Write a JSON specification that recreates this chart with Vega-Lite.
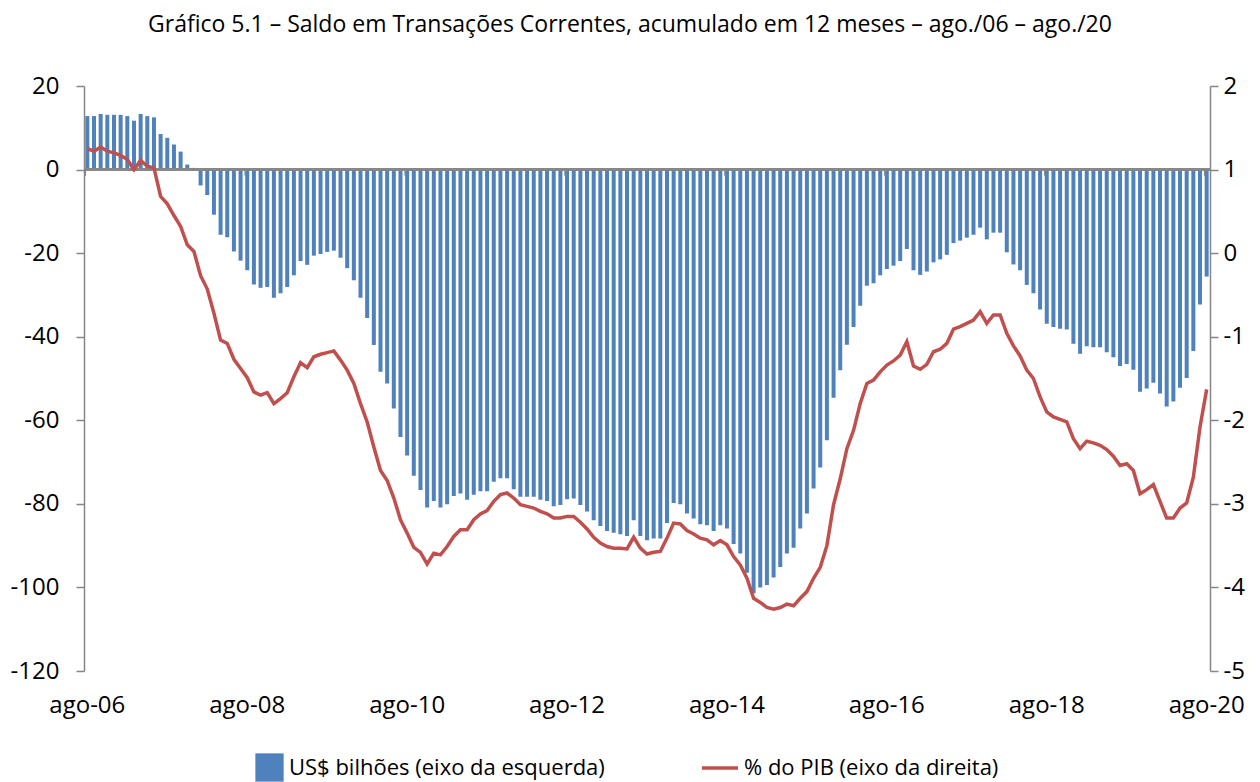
{
  "$schema": "https://vega.github.io/schema/vega-lite/v6.json",
  "width": 1126,
  "height": 585,
  "autosize": {"type": "none"},
  "padding": {"left": 84, "top": 86, "right": 50, "bottom": 111},
  "background": "white",
  "config": {
    "view": {"stroke": null},
    "font": "Open Sans",
    "axis": {"grid": false, "labelFont": "Open Sans", "labelColor": "#000000", "domainColor": "#868686", "tickColor": "#868686", "titleFont": "Open Sans"},
    "legend": {"labelFont": "Open Sans"}
  },
  "title": {
    "text": "Gráfico 5.1 – Saldo em Transações Correntes, acumulado em 12 meses – ago./06 – ago./20",
    "fontSize": 23,
    "fontWeight": "normal",
    "font": "Open Sans",
    "color": "#000000",
    "offset": 37,
    "dx": -17,
    "anchor": "middle"
  },
  "data": {
    "values": [
      {"mes": "ago-06", "usd": 12.8, "pib": 1.25},
      {"mes": "set-06", "usd": 12.8, "pib": 1.22},
      {"mes": "out-06", "usd": 13.3, "pib": 1.27},
      {"mes": "nov-06", "usd": 13.1, "pib": 1.22},
      {"mes": "dez-06", "usd": 13.1, "pib": 1.20},
      {"mes": "jan-07", "usd": 13.1, "pib": 1.17},
      {"mes": "fev-07", "usd": 12.8, "pib": 1.12},
      {"mes": "mar-07", "usd": 11.7, "pib": 1.00},
      {"mes": "abr-07", "usd": 13.3, "pib": 1.11},
      {"mes": "mai-07", "usd": 12.8, "pib": 1.04},
      {"mes": "jun-07", "usd": 12.5, "pib": 1.02},
      {"mes": "jul-07", "usd": 8.5, "pib": 0.68},
      {"mes": "ago-07", "usd": 7.6, "pib": 0.59},
      {"mes": "set-07", "usd": 6.0, "pib": 0.45},
      {"mes": "out-07", "usd": 4.3, "pib": 0.32},
      {"mes": "nov-07", "usd": 1.2, "pib": 0.10},
      {"mes": "dez-07", "usd": 0.4, "pib": 0.02},
      {"mes": "jan-08", "usd": -3.8, "pib": -0.27},
      {"mes": "fev-08", "usd": -6.1, "pib": -0.43},
      {"mes": "mar-08", "usd": -10.8, "pib": -0.72},
      {"mes": "abr-08", "usd": -15.6, "pib": -1.04},
      {"mes": "mai-08", "usd": -16.2, "pib": -1.08},
      {"mes": "jun-08", "usd": -19.6, "pib": -1.27},
      {"mes": "jul-08", "usd": -21.8, "pib": -1.38},
      {"mes": "ago-08", "usd": -24.1, "pib": -1.49},
      {"mes": "set-08", "usd": -27.5, "pib": -1.66},
      {"mes": "out-08", "usd": -28.3, "pib": -1.70},
      {"mes": "nov-08", "usd": -28.1, "pib": -1.67},
      {"mes": "dez-08", "usd": -30.7, "pib": -1.80},
      {"mes": "jan-09", "usd": -29.6, "pib": -1.74},
      {"mes": "fev-09", "usd": -28.1, "pib": -1.67},
      {"mes": "mar-09", "usd": -25.3, "pib": -1.48},
      {"mes": "abr-09", "usd": -21.9, "pib": -1.31},
      {"mes": "mai-09", "usd": -22.8, "pib": -1.37},
      {"mes": "jun-09", "usd": -20.6, "pib": -1.24},
      {"mes": "jul-09", "usd": -20.2, "pib": -1.21},
      {"mes": "ago-09", "usd": -19.7, "pib": -1.19},
      {"mes": "set-09", "usd": -19.4, "pib": -1.17},
      {"mes": "out-09", "usd": -21.1, "pib": -1.28},
      {"mes": "nov-09", "usd": -23.6, "pib": -1.40},
      {"mes": "dez-09", "usd": -26.5, "pib": -1.56},
      {"mes": "jan-10", "usd": -30.7, "pib": -1.80},
      {"mes": "fev-10", "usd": -35.5, "pib": -2.02},
      {"mes": "mar-10", "usd": -42.0, "pib": -2.32},
      {"mes": "abr-10", "usd": -48.4, "pib": -2.60},
      {"mes": "mai-10", "usd": -51.2, "pib": -2.72},
      {"mes": "jun-10", "usd": -57.2, "pib": -2.93},
      {"mes": "jul-10", "usd": -64.0, "pib": -3.19},
      {"mes": "ago-10", "usd": -68.4, "pib": -3.35},
      {"mes": "set-10", "usd": -73.3, "pib": -3.52},
      {"mes": "out-10", "usd": -76.7, "pib": -3.58},
      {"mes": "nov-10", "usd": -80.9, "pib": -3.72},
      {"mes": "dez-10", "usd": -79.3, "pib": -3.59},
      {"mes": "jan-11", "usd": -80.9, "pib": -3.61},
      {"mes": "fev-11", "usd": -80.1, "pib": -3.51},
      {"mes": "mar-11", "usd": -78.1, "pib": -3.39},
      {"mes": "abr-11", "usd": -77.5, "pib": -3.31},
      {"mes": "mai-11", "usd": -79.0, "pib": -3.31},
      {"mes": "jun-11", "usd": -77.8, "pib": -3.19},
      {"mes": "jul-11", "usd": -77.0, "pib": -3.12},
      {"mes": "ago-11", "usd": -77.0, "pib": -3.08},
      {"mes": "set-11", "usd": -74.7, "pib": -2.97},
      {"mes": "out-11", "usd": -73.9, "pib": -2.89},
      {"mes": "nov-11", "usd": -73.9, "pib": -2.87},
      {"mes": "dez-11", "usd": -76.5, "pib": -2.93},
      {"mes": "jan-12", "usd": -78.3, "pib": -3.01},
      {"mes": "fev-12", "usd": -78.3, "pib": -3.03},
      {"mes": "mar-12", "usd": -78.3, "pib": -3.05},
      {"mes": "abr-12", "usd": -79.0, "pib": -3.09},
      {"mes": "mai-12", "usd": -79.3, "pib": -3.12},
      {"mes": "jun-12", "usd": -80.6, "pib": -3.17},
      {"mes": "jul-12", "usd": -80.3, "pib": -3.17},
      {"mes": "ago-12", "usd": -78.9, "pib": -3.15},
      {"mes": "set-12", "usd": -78.7, "pib": -3.15},
      {"mes": "out-12", "usd": -80.3, "pib": -3.22},
      {"mes": "nov-12", "usd": -81.8, "pib": -3.30},
      {"mes": "dez-12", "usd": -83.9, "pib": -3.40},
      {"mes": "jan-13", "usd": -85.3, "pib": -3.47},
      {"mes": "fev-13", "usd": -86.5, "pib": -3.51},
      {"mes": "mar-13", "usd": -86.9, "pib": -3.53},
      {"mes": "abr-13", "usd": -87.3, "pib": -3.53},
      {"mes": "mai-13", "usd": -87.7, "pib": -3.54},
      {"mes": "jun-13", "usd": -83.9, "pib": -3.40},
      {"mes": "jul-13", "usd": -87.7, "pib": -3.53},
      {"mes": "ago-13", "usd": -88.7, "pib": -3.60},
      {"mes": "set-13", "usd": -88.3, "pib": -3.58},
      {"mes": "out-13", "usd": -88.3, "pib": -3.57},
      {"mes": "nov-13", "usd": -84.6, "pib": -3.41},
      {"mes": "dez-13", "usd": -79.8, "pib": -3.23},
      {"mes": "jan-14", "usd": -80.1, "pib": -3.24},
      {"mes": "fev-14", "usd": -82.3, "pib": -3.32},
      {"mes": "mar-14", "usd": -83.5, "pib": -3.36},
      {"mes": "abr-14", "usd": -84.9, "pib": -3.41},
      {"mes": "mai-14", "usd": -85.1, "pib": -3.43},
      {"mes": "jun-14", "usd": -86.5, "pib": -3.49},
      {"mes": "jul-14", "usd": -85.1, "pib": -3.44},
      {"mes": "ago-14", "usd": -85.9, "pib": -3.49},
      {"mes": "set-14", "usd": -89.6, "pib": -3.63},
      {"mes": "out-14", "usd": -91.9, "pib": -3.73},
      {"mes": "nov-14", "usd": -96.5, "pib": -3.89},
      {"mes": "dez-14", "usd": -101.4, "pib": -4.13},
      {"mes": "jan-15", "usd": -100.0, "pib": -4.18},
      {"mes": "fev-15", "usd": -99.4, "pib": -4.24},
      {"mes": "mar-15", "usd": -97.6, "pib": -4.26},
      {"mes": "abr-15", "usd": -95.1, "pib": -4.24},
      {"mes": "mai-15", "usd": -91.9, "pib": -4.20},
      {"mes": "jun-15", "usd": -90.5, "pib": -4.22},
      {"mes": "jul-15", "usd": -85.9, "pib": -4.13},
      {"mes": "ago-15", "usd": -82.3, "pib": -4.05},
      {"mes": "set-15", "usd": -76.3, "pib": -3.89},
      {"mes": "out-15", "usd": -71.3, "pib": -3.76},
      {"mes": "nov-15", "usd": -64.8, "pib": -3.50},
      {"mes": "dez-15", "usd": -54.6, "pib": -3.01},
      {"mes": "jan-16", "usd": -48.0, "pib": -2.70},
      {"mes": "fev-16", "usd": -41.9, "pib": -2.34},
      {"mes": "mar-16", "usd": -37.7, "pib": -2.12},
      {"mes": "abr-16", "usd": -32.6, "pib": -1.80},
      {"mes": "mai-16", "usd": -27.8, "pib": -1.56},
      {"mes": "jun-16", "usd": -27.2, "pib": -1.52},
      {"mes": "jul-16", "usd": -25.3, "pib": -1.42},
      {"mes": "ago-16", "usd": -23.8, "pib": -1.34},
      {"mes": "set-16", "usd": -23.0, "pib": -1.29},
      {"mes": "out-16", "usd": -21.9, "pib": -1.22},
      {"mes": "nov-16", "usd": -19.0, "pib": -1.06},
      {"mes": "dez-16", "usd": -24.1, "pib": -1.35},
      {"mes": "jan-17", "usd": -25.2, "pib": -1.39},
      {"mes": "fev-17", "usd": -24.4, "pib": -1.33},
      {"mes": "mar-17", "usd": -22.2, "pib": -1.18},
      {"mes": "abr-17", "usd": -21.5, "pib": -1.15},
      {"mes": "mai-17", "usd": -20.4, "pib": -1.08},
      {"mes": "jun-17", "usd": -17.6, "pib": -0.91},
      {"mes": "jul-17", "usd": -17.0, "pib": -0.88},
      {"mes": "ago-17", "usd": -16.3, "pib": -0.84},
      {"mes": "set-17", "usd": -15.6, "pib": -0.80},
      {"mes": "out-17", "usd": -13.9, "pib": -0.70},
      {"mes": "nov-17", "usd": -16.7, "pib": -0.84},
      {"mes": "dez-17", "usd": -15.1, "pib": -0.74},
      {"mes": "jan-18", "usd": -15.1, "pib": -0.74},
      {"mes": "fev-18", "usd": -19.8, "pib": -0.96},
      {"mes": "mar-18", "usd": -22.7, "pib": -1.11},
      {"mes": "abr-18", "usd": -24.1, "pib": -1.23},
      {"mes": "mai-18", "usd": -27.6, "pib": -1.40},
      {"mes": "jun-18", "usd": -29.6, "pib": -1.50},
      {"mes": "jul-18", "usd": -33.5, "pib": -1.72},
      {"mes": "ago-18", "usd": -36.9, "pib": -1.90},
      {"mes": "set-18", "usd": -37.7, "pib": -1.96},
      {"mes": "out-18", "usd": -38.1, "pib": -1.99},
      {"mes": "nov-18", "usd": -38.3, "pib": -2.02},
      {"mes": "dez-18", "usd": -41.7, "pib": -2.22},
      {"mes": "jan-19", "usd": -44.1, "pib": -2.34},
      {"mes": "fev-19", "usd": -42.3, "pib": -2.25},
      {"mes": "mar-19", "usd": -42.5, "pib": -2.27},
      {"mes": "abr-19", "usd": -42.5, "pib": -2.30},
      {"mes": "mai-19", "usd": -43.7, "pib": -2.35},
      {"mes": "jun-19", "usd": -44.9, "pib": -2.43},
      {"mes": "jul-19", "usd": -47.0, "pib": -2.54},
      {"mes": "ago-19", "usd": -46.5, "pib": -2.52},
      {"mes": "set-19", "usd": -47.9, "pib": -2.60},
      {"mes": "out-19", "usd": -53.2, "pib": -2.88},
      {"mes": "nov-19", "usd": -52.4, "pib": -2.83},
      {"mes": "dez-19", "usd": -51.0, "pib": -2.77},
      {"mes": "jan-20", "usd": -53.6, "pib": -2.97},
      {"mes": "fev-20", "usd": -56.7, "pib": -3.17},
      {"mes": "mar-20", "usd": -55.5, "pib": -3.17},
      {"mes": "abr-20", "usd": -52.2, "pib": -3.05},
      {"mes": "mai-20", "usd": -49.9, "pib": -2.99},
      {"mes": "jun-20", "usd": -43.4, "pib": -2.68},
      {"mes": "jul-20", "usd": -32.3, "pib": -2.08},
      {"mes": "ago-20", "usd": -25.6, "pib": -1.63}
    ]
  },
  "layer": [
    {
      "layer": [
        {
          "mark": {"type": "bar", "color": "#4F81BD"},
          "encoding": {
            "x": {
              "field": "mes", "type": "ordinal", "sort": null,
              "scale": {"paddingInner": 0.4, "paddingOuter": 0.2},
              "axis": {
                "values": ["ago-06", "ago-08", "ago-10", "ago-12", "ago-14", "ago-16", "ago-18", "ago-20"],
                "domain": false, "ticks": false, "labelAngle": 0,
                "labelPadding": 22, "labelFontSize": 24, "title": null
              }
            },
            "y": {
              "field": "usd", "type": "quantitative",
              "scale": {"domain": [-120, 20], "nice": false, "zero": false},
              "axis": {
                "values": [-120, -100, -80, -60, -40, -20, 0, 20],
                "labelExpr": "'' + datum.value",
                "tickSize": 8, "labelPadding": 17, "labelFontSize": 24,
                "domainWidth": 1.5, "tickWidth": 1.5, "title": null
              }
            },
            "color": {
              "datum": "US$ bilhões (eixo da esquerda)",
              "scale": {"range": ["#4F81BD"]},
              "legend": {
                "orient": "none", "legendX": 171, "legendY": 667, "title": null,
                "symbolType": "square", "symbolSize": 800, "symbolStrokeWidth": 0,
                "labelFontSize": 22, "labelColor": "#000000", "labelLimit": 600, "labelOffset": 5
              }
            }
          }
        },
        {
          "mark": {"type": "rule", "color": "#868686", "strokeWidth": 1.5},
          "encoding": {"y": {"datum": 0}}
        },
        {
          "transform": [{"filter": {"field": "mes", "oneOf": ["ago-06", "ago-08", "ago-10", "ago-12", "ago-14", "ago-16", "ago-18", "ago-20"]}}],
          "mark": {"type": "rule", "color": "#868686", "strokeWidth": 1.5},
          "encoding": {
            "x": {"field": "mes", "type": "ordinal", "sort": null, "bandPosition": 0},
            "y": {"datum": 0},
            "y2": {"datum": -1.5}
          }
        }
      ]
    },
    {
      "mark": {"type": "line", "strokeWidth": 3.5, "color": "#C0504D"},
      "encoding": {
        "x": {"field": "mes", "type": "ordinal", "sort": null},
        "y": {
          "field": "pib", "type": "quantitative",
          "scale": {"domain": [-5, 2], "nice": false, "zero": false},
          "axis": {
            "orient": "right",
            "values": [-5, -4, -3, -2, -1, 0, 1, 2],
            "labelExpr": "'' + datum.value",
            "tickSize": 8, "labelPadding": 5, "labelFontSize": 24,
            "domainWidth": 1.5, "tickWidth": 1.5, "title": null
          }
        },
        "stroke": {
          "datum": "% do PIB (eixo da direita)",
          "scale": {"range": ["#C0504D"]},
          "legend": {
            "orient": "none", "legendX": 616, "legendY": 662, "title": null,
            "symbolType": "stroke", "symbolSize": 1300, "symbolStrokeWidth": 3.5,
            "labelFontSize": 22, "labelColor": "#000000", "labelLimit": 600, "labelOffset": 4
          }
        }
      }
    }
  ],
  "resolve": {"scale": {"y": "independent"}}
}
